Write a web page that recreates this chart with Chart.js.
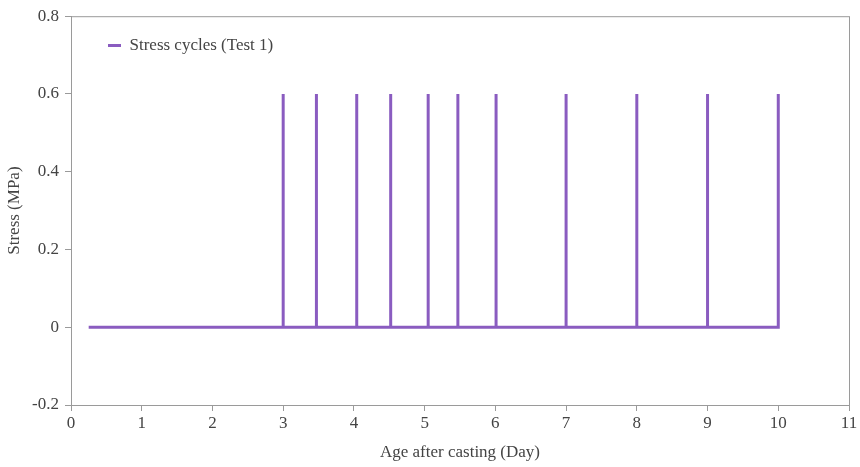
<!DOCTYPE html>
<html>
<head>
<meta charset="utf-8">
<script src="https://cdn.jsdelivr.net/npm/chart.js@4"></script>
<style>
  html, body { margin: 0; padding: 0; background: #fff; }
  #wrap { width: 860px; height: 467px; }
</style>
</head>
<body>
<div id="wrap"><canvas id="stressChart"></canvas></div>
<script>
// Stress cycles (Test 1) - age in days vs stress in MPa
const ageDays = [0.25, 3, 3, 3, 3.47, 3.47, 3.47, 4.04, 4.04, 4.04, 4.52, 4.52, 4.52,
                 5.05, 5.05, 5.05, 5.47, 5.47, 5.47, 6.01, 6.01, 6.01, 7, 7, 7,
                 8, 8, 8, 9, 9, 9, 10, 10];
const stress = [0, 0, 0.6, 0, 0, 0.6, 0, 0, 0.6, 0, 0, 0.6, 0,
                0, 0.6, 0, 0, 0.6, 0, 0, 0.6, 0, 0, 0.6, 0,
                0, 0.6, 0, 0, 0.6, 0, 0, 0.6];
const xTicks = [0, 1, 2, 3, 4, 5, 6, 7, 8, 9, 10, 11];
const yTicks = [-0.2, 0, 0.2, 0.4, 0.6, 0.8];

const points = ageDays.map((d, i) => ({ x: d, y: stress[i] }));

// box round the plot area
const frame = {
    id: 'frame',
    afterDraw(chart) {
        const a = chart.chartArea, ctx = chart.ctx;
        ctx.save();
        ctx.strokeStyle = '#9a9a9a';
        ctx.lineWidth = 1;
        ctx.strokeRect(a.left + 0.5, a.top + 0.5, a.right - a.left, a.bottom - a.top);
        ctx.restore();
    }
};

const fontFam = '"Liberation Serif", "Times New Roman", serif';

new Chart(document.getElementById('stressChart'), {
    type: 'line',
    data: {
        datasets: [{
            label: 'Stress cycles (Test 1)',
            data: points,
            borderColor: '#8a5cc0',
            backgroundColor: '#8a5cc0',
            borderWidth: 3,
            pointRadius: 0,
            tension: 0,
            fill: false
        }]
    },
    options: {
        responsive: true,
        maintainAspectRatio: false,
        animation: false,
        layout: { padding: { top: 10, right: 11, left: 0, bottom: 0 } },
        plugins: {
            legend: {
                position: 'chartArea',
                align: 'start',
                labels: {
                    usePointStyle: true,
                    pointStyle: 'line',
                    pointStyleWidth: 13,
                    boxWidth: 13,
                    padding: 37,
                    color: '#444',
                    font: { family: fontFam, size: 17 }
                }
            },
            tooltip: { enabled: false }
        },
        scales: {
            x: {
                type: 'linear',
                min: 0,
                max: 11,
                afterBuildTicks: s => { s.ticks = xTicks.map(v => ({ value: v })); },
                ticks: { color: '#444', font: { family: fontFam, size: 17 }, maxRotation: 0, padding: 2 },
                grid: { drawOnChartArea: false, tickLength: 6, color: '#9a9a9a' },
                border: { color: '#9a9a9a' },
                title: { display: true, text: 'Age after casting (Day)', color: '#444', font: { family: fontFam, size: 17 }, padding: { top: 0 } },
                afterFit: s => { s.height = 62; }
            },
            y: {
                min: -0.2,
                max: 0.8,
                afterBuildTicks: s => { s.ticks = yTicks.map(v => ({ value: v })); },
                ticks: { color: '#444', font: { family: fontFam, size: 17 }, padding: 6 },
                grid: { drawOnChartArea: false, tickLength: 6, color: '#9a9a9a' },
                border: { color: '#9a9a9a' },
                title: { display: true, text: 'Stress (MPa)', color: '#444', font: { family: fontFam, size: 17 }, padding: { bottom: 6 } },
                afterFit: s => { s.width = 71; }
            }
        }
    },
    plugins: [frame]
});
</script>
</body>
</html>
